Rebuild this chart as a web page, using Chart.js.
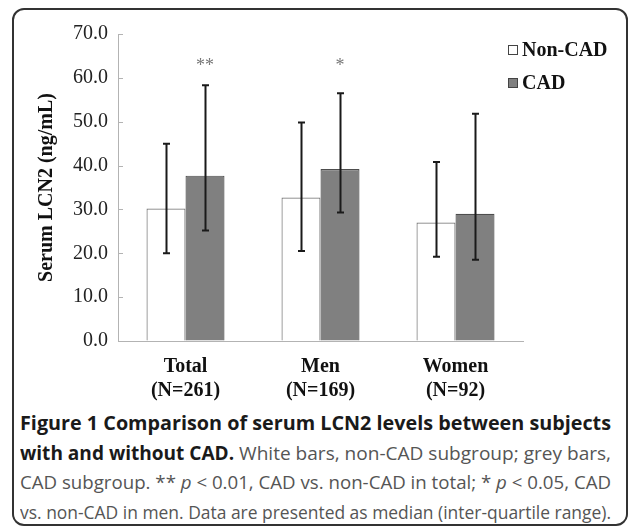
<!DOCTYPE html>
<html>
<head>
<meta charset="utf-8">
<script src="https://cdn.jsdelivr.net/npm/chart.js@4.4.1/dist/chart.umd.min.js"></script>
<style>
  html, body { margin: 0; padding: 0; background: #fff; }
  #wrap { position: relative; width: 633px; height: 526px; overflow: hidden; }
  #frame { position: absolute; left: 12px; top: 8px; width: 612px; height: 514px;
           border: 2px solid #333; border-radius: 12px; pointer-events: none; }
  #chart { position: absolute; left: 0; top: 0; }
  #caption { position: absolute; left: 20px; top: 409px; width: 591px;
             font-family: "Open Sans", "Noto Sans", sans-serif; font-size: 19px; color: #555; }
  #caption .line { height: 29.5px; line-height: 29.5px; white-space: nowrap; }
  #caption .line span { display: inline-block; transform-origin: 0 50%; }
  #caption b { color: #1a1a1a; font-weight: 700; }
</style>
</head>
<body>
<div id="wrap">
  <canvas id="chart" width="633" height="405"></canvas>
  <div id="caption">
    <div class="line"><span><b>Figure 1 Comparison of serum LCN2 levels between subjects</b></span></div>
    <div class="line"><span><b>with and without CAD.</b> White bars, non-CAD subgroup; grey bars,</span></div>
    <div class="line"><span>CAD subgroup. ** <i>p</i> &lt; 0.01, CAD vs. non-CAD in total; * <i>p</i> &lt; 0.05, CAD</span></div>
    <div class="line"><span>vs. non-CAD in men. Data are presented as median (inter-quartile range).</span></div>
  </div>
  <div id="frame"></div>
</div>
<script>
// медианы и межквартильный размах, ng/mL
const groups = [["Total", "(N=261)"], ["Men", "(N=169)"], ["Women", "(N=92)"]];
const nonCadMedian = [30.2, 32.7, 27.0];
const nonCadLower = [20.0, 20.5, 19.2];
const nonCadUpper = [45.0, 49.8, 40.8];
const cadMedian = [37.7, 39.2, 29.0];
const cadLower = [25.2, 29.3, 18.5];
const cadUpper = [58.3, 56.5, 51.8];
const sigLabels = ["**", "*", ""];

const SERIF = "'Liberation Serif', 'Times New Roman', serif";

// усы IQR поверх столбцов
const errorBars = {
  id: "errorBars",
  afterDatasetsDraw(chart) {
    const { ctx } = chart;
    const y = chart.scales.y;
    ctx.save();
    ctx.strokeStyle = "#1a1a1a";
    ctx.lineWidth = 2;
    chart.data.datasets.forEach((ds, di) => {
      chart.getDatasetMeta(di).data.forEach((bar, i) => {
        const x = Math.round(bar.x) + 0.5;
        const top = y.getPixelForValue(ds.upper[i]);
        const bot = y.getPixelForValue(ds.lower[i]);
        ctx.beginPath();
        ctx.moveTo(x, top); ctx.lineTo(x, bot);
        ctx.moveTo(x - 3.5, top); ctx.lineTo(x + 3.5, top);
        ctx.moveTo(x - 3.5, bot); ctx.lineTo(x + 3.5, bot);
        ctx.stroke();
      });
    });
    ctx.restore();
  },
};

// звёздочки значимости над столбцами CAD
const sigMarks = {
  id: "sigMarks",
  afterDatasetsDraw(chart) {
    const { ctx } = chart;
    const y = chart.scales.y;
    const meta = chart.getDatasetMeta(1);
    ctx.save();
    ctx.fillStyle = "#777";
    ctx.font = "18px " + SERIF;
    ctx.textAlign = "center";
    ctx.textBaseline = "alphabetic";
    meta.data.forEach((bar, i) => {
      if (!sigLabels[i]) return;
      ctx.fillText(sigLabels[i], bar.x, y.getPixelForValue(61.6));
    });
    ctx.restore();
  },
};

// короткие засечки внутрь по оси Y
const innerTicks = {
  id: "innerTicks",
  afterDraw(chart) {
    const { ctx } = chart;
    const y = chart.scales.y;
    ctx.save();
    ctx.strokeStyle = "#b3b3b3";
    ctx.lineWidth = 1;
    y.ticks.forEach((t) => {
      const py = Math.round(y.getPixelForValue(t.value)) + 0.5;
      ctx.beginPath();
      ctx.moveTo(y.right, py);
      ctx.lineTo(y.right + 5, py);
      ctx.stroke();
    });
    ctx.restore();
  },
};

// легенда в правом верхнем углу
const boxLegend = {
  id: "boxLegend",
  afterDraw(chart) {
    const { ctx } = chart;
    ctx.save();
    ctx.font = "bold 20px " + SERIF;
    ctx.textBaseline = "middle";
    ctx.textAlign = "left";
    chart.data.datasets.forEach((ds, i) => {
      const cy = 50 + i * 33;
      ctx.fillStyle = ds.backgroundColor;
      ctx.strokeStyle = "#444";
      ctx.lineWidth = 1;
      ctx.fillRect(508, cy - 5, 10, 10);
      ctx.strokeRect(508.5, cy - 4.5, 9, 9);
      ctx.fillStyle = "#111";
      ctx.fillText(ds.label, 522, cy + 1);
    });
    ctx.restore();
  },
};

new Chart(document.getElementById("chart"), {
  type: "bar",
  data: {
    labels: groups,
    datasets: [
      {
        label: "Non-CAD",
        data: nonCadMedian,
        lower: nonCadLower,
        upper: nonCadUpper,
        backgroundColor: "#ffffff",
        borderColor: "#7a7a7a",
        borderWidth: 1.2,
      },
      {
        label: "CAD",
        data: cadMedian,
        lower: cadLower,
        upper: cadUpper,
        backgroundColor: "#808080",
        borderColor: "#4d4d4d",
        borderWidth: 1.2,
      },
    ],
  },
  plugins: [errorBars, sigMarks, innerTicks, boxLegend],
  options: {
    responsive: false,
    animation: false,
    events: [],
    categoryPercentage: 0.578,
    barPercentage: 1.0,
    layout: { padding: { top: 34, right: 110, bottom: 0, left: 0 } },
    plugins: {
      legend: { display: false },
      tooltip: { enabled: false },
    },
    scales: {
      x: {
        afterFit: (s) => { s.height = 64; },
        grid: { display: false, drawTicks: false },
        border: { color: "#b3b3b3", width: 1 },
        ticks: {
          padding: 14,
          color: "#111",
          font: { family: SERIF, size: 20, weight: "bold", lineHeight: 1.2 },
        },
      },
      y: {
        min: 0,
        max: 70,
        afterFit: (s) => { s.width = 118; },
        grid: { drawOnChartArea: false, drawTicks: false },
        border: { color: "#b3b3b3", width: 1 },
        ticks: {
          stepSize: 10,
          padding: 10,
          color: "#222",
          font: { family: SERIF, size: 20 },
          callback: (v) => v.toFixed(1),
        },
        title: {
          display: true,
          text: "Serum LCN2 (ng/mL)",
          color: "#111",
          padding: { top: 35, bottom: 0 },
          font: { family: SERIF, size: 20, weight: "bold", lineHeight: 1.2 },
        },
      },
    },
  },
});

// подгонка строк подписи к ширине блока (выравнивание по ширине)
document.querySelectorAll("#caption .line span").forEach((sp) => {
  const w = sp.getBoundingClientRect().width;
  sp.style.transform = "scaleX(" + (591 / w).toFixed(4) + ")";
});
</script>
</body>
</html>
